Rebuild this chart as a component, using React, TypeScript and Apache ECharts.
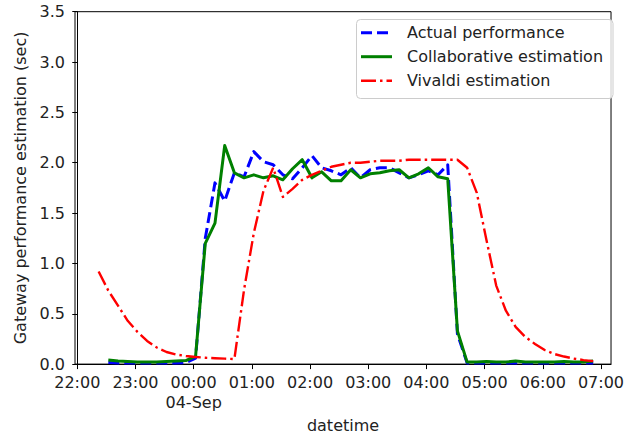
import React, { useEffect, useRef } from "react";
import * as echarts from "echarts";

// sample times (clock time, night of 03-Sep to 04-Sep)
const times = [
  "22:22", "22:32", "22:42", "22:52", "23:02", "23:12", "23:22", "23:32", "23:42", "23:52",
  "00:02", "00:12", "00:22", "00:32", "00:42", "00:52", "01:02", "01:12", "01:22", "01:32",
  "01:42", "01:52", "02:02", "02:12", "02:22", "02:32", "02:42", "02:52", "03:02", "03:12",
  "03:22", "03:32", "03:42", "03:52", "04:02", "04:12", "04:22", "04:32", "04:42", "04:52",
  "05:02", "05:12", "05:22", "05:32", "05:42", "05:52", "06:02", "06:12", "06:22", "06:32",
  "06:42", "06:52",
];

const actual: (number | null)[] = [
  null, 0.015, 0.01, 0.01, 0.01, 0.01, 0.01, 0.01, 0.01, 0.015,
  0.06, 1.25, 1.8, 1.62, 1.9, 1.86, 2.11, 2.01, 1.98, 1.88,
  1.84, 1.95, 2.07, 1.95, 1.92, 1.88, 1.95, 1.85, 1.93, 1.95,
  1.95, 1.9, 1.85, 1.88, 1.92, 1.88, 1.98, 0.3, 0.01, 0.01,
  0.01, 0.01, 0.01, 0.01, 0.01, 0.01, 0.01, 0.01, 0.01, 0.01,
  0.01, 0.01,
];

const collaborative: (number | null)[] = [
  null, 0.04, 0.03, 0.025, 0.02, 0.02, 0.02, 0.025, 0.03, 0.035,
  0.08, 1.2, 1.4, 2.17, 1.9, 1.85, 1.88, 1.85, 1.87, 1.83,
  1.94, 2.03, 1.85, 1.91, 1.82, 1.82, 1.93, 1.85, 1.89, 1.9,
  1.92, 1.93, 1.85, 1.89, 1.95, 1.86, 1.84, 0.33, 0.02, 0.02,
  0.025, 0.02, 0.02, 0.03, 0.02, 0.02, 0.02, 0.02, 0.025, 0.02,
  0.02, 0.03,
];

const vivaldi: (number | null)[] = [
  0.92, 0.73, 0.58, 0.43, 0.32, 0.23, 0.165, 0.12, 0.095, 0.08,
  0.07, 0.063, 0.058, 0.054, 0.05, 0.74, 1.3, 1.72, 1.95, 1.66,
  1.74, 1.83, 1.88, 1.92, 1.96, 1.98, 2.0, 2.0, 2.01, 2.02,
  2.02, 2.02, 2.03, 2.03, 2.03, 2.03, 2.03, 2.03, 1.95, 1.7,
  1.23, 0.78, 0.53, 0.37, 0.27, 0.2, 0.14, 0.1, 0.075, 0.055,
  0.04, 0.03,
];

const seriesNames = ["Actual performance", "Collaborative estimation", "Vivaldi estimation"];
const xTickLabels = [
  "22:00", "23:00", "00:00\n04-Sep", "01:00", "02:00", "03:00", "04:00", "05:00", "06:00", "07:00",
];
const xTickMinutes = [0, 60, 120, 180, 240, 300, 360, 420, 480, 540];
const xAxisName = "datetime";
const yAxisName = "Gateway performance estimation (sec)";

const colors = ["#0000ff", "#008000", "#ff0000"];
const widths = [3, 3, 2.4];
const dashes: (number[] | null)[] = [[11, 5], null, [15, 4, 2.5, 4]];

const FONT = "DejaVu Sans";
const TEXT = "#222222";

function toMinutes(t: string): number {
  const [h, m] = t.split(":").map(Number);
  let v = h * 60 + m - 22 * 60;
  if (v < 0) v += 24 * 60;
  return v;
}

function pairs(values: (number | null)[]) {
  const out: [number, number][] = [];
  values.forEach((v, i) => {
    if (v !== null) out.push([toMinutes(times[i]), v]);
  });
  return out;
}

export default function App() {
  const ref = useRef<HTMLDivElement>(null);
  useEffect(() => {
    if (!ref.current) return;
    const chart = echarts.init(ref.current, undefined, { renderer: "svg" });
    const data = [actual, collaborative, vivaldi];
    const legendY = [32.7, 56.7, 80.7];
    chart.setOption({
      animation: false,
      backgroundColor: "#ffffff",
      textStyle: { fontFamily: FONT },
      grid: {
        left: 75,
        right: 10.3,
        top: 11.7,
        bottom: 73.7,
        show: true,
        borderColor: "#000000",
        borderWidth: 1,
        backgroundColor: "transparent",
      },
      xAxis: {
        type: "value",
        min: -2.35,
        max: 550.4,
        name: xAxisName,
        nameLocation: "middle",
        nameGap: 52,
        nameTextStyle: { fontSize: 16, color: TEXT, fontFamily: FONT },
        splitLine: { show: false },
        axisLine: { show: true, onZero: false, lineStyle: { color: "#000000", width: 1 } },
        axisTick: {
          show: true,
          inside: false,
          length: 5,
          customValues: xTickMinutes,
          lineStyle: { color: "#000000", width: 1 },
        },
        axisLabel: {
          show: true,
          customValues: xTickMinutes,
          margin: 8,
          fontSize: 16,
          lineHeight: 20,
          color: TEXT,
          fontFamily: FONT,
          formatter: (v: number) => xTickLabels[Math.round(v / 60)] ?? "",
        },
      },
      yAxis: {
        type: "value",
        min: 0,
        max: 3.5,
        interval: 0.5,
        name: yAxisName,
        nameLocation: "middle",
        nameGap: 46,
        nameTextStyle: { fontSize: 16, color: TEXT, fontFamily: FONT },
        splitLine: { show: false },
        axisLine: { show: true, lineStyle: { color: "#000000", width: 1 } },
        axisTick: { show: true, inside: false, length: 5, lineStyle: { color: "#000000", width: 1 } },
        axisLabel: {
          margin: 10,
          fontSize: 16,
          color: TEXT,
          fontFamily: FONT,
          formatter: (v: number) => v.toFixed(1),
        },
      },
      series: seriesNames.map((name, i) => ({
        name,
        type: "line",
        data: pairs(data[i]),
        showSymbol: false,
        symbol: "none",
        z: 2 + i,
        lineStyle: {
          color: colors[i],
          width: widths[i],
          type: dashes[i] ?? "solid",
          cap: "butt",
          join: "round",
        },
      })),
      graphic: [
        {
          type: "rect",
          z: 100,
          shape: { x: 356.5, y: 19.5, width: 256.5, height: 79, r: 4 },
          style: { fill: "rgba(255,255,255,0.8)", stroke: "#cccccc", lineWidth: 1 },
        },
        ...seriesNames.map((_, i) => ({
          type: "line",
          z: 101,
          shape: { x1: 361, y1: legendY[i], x2: 392, y2: legendY[i] },
          style: {
            stroke: colors[i],
            lineWidth: widths[i],
            lineDash: dashes[i] ?? undefined,
            lineCap: "butt",
          },
        })),
        ...seriesNames.map((n, i) => ({
          type: "text",
          z: 101,
          x: 407,
          y: legendY[i],
          style: {
            text: n,
            fontSize: 16,
            fontFamily: FONT,
            fill: TEXT,
            verticalAlign: "middle",
            align: "left",
          },
        })),
      ],
    });
    return () => chart.dispose();
  }, []);
  return (
    <div
      ref={ref}
      style={{ position: "fixed", left: 0, top: 0, width: 627, height: 438, background: "#fff" }}
    />
  );
}
